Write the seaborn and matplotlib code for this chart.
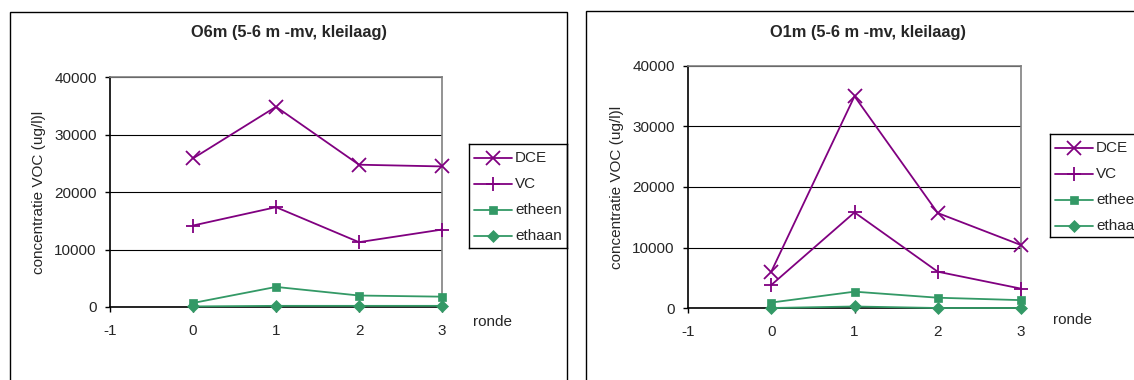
import matplotlib
matplotlib.use("Agg")
import matplotlib.pyplot as plt
from matplotlib.patches import Rectangle
import pandas as pd
import seaborn as sns

sns.set_theme(style="white")
plt.rcParams["font.family"] = ["Liberation Sans", "DejaVu Sans"]

ronde = [0, 1, 2, 3]
series_names = ["DCE", "VC", "etheen", "ethaan"]

# O6m (5-6 m -mv, kleilaag)
o6m_dce = [25900, 34900, 24800, 24500]
o6m_vc = [14200, 17400, 11300, 13500]
o6m_etheen = [700, 3500, 2000, 1800]
o6m_ethaan = [100, 200, 200, 200]

# O1m (5-6 m -mv, kleilaag)
o1m_dce = [6000, 35000, 15700, 10400]
o1m_vc = [3800, 15800, 6000, 3200]
o1m_etheen = [900, 2700, 1700, 1300]
o1m_ethaan = [0, 250, 0, 0]

titles = ["O6m (5-6 m -mv, kleilaag)", "O1m (5-6 m -mv, kleilaag)"]
y_ticks = [0, 10000, 20000, 30000, 40000]
x_ticks = [-1, 0, 1, 2, 3]

purple = "#800080"
green = "#339966"
palette = {"DCE": purple, "VC": purple, "etheen": green, "ethaan": green}
markers = {"DCE": "x", "VC": "+", "etheen": "s", "ethaan": "D"}
FS = 11


def long_frame(dce, vc, etheen, ethaan):
    rows = []
    for name, vals in zip(series_names, [dce, vc, etheen, ethaan]):
        for r, v in zip(ronde, vals):
            rows.append({"ronde": r, "stof": name, "conc": v})
    return pd.DataFrame(rows)


def marker_kw(name):
    m = markers[name]
    c = palette[name]
    if m in ("x", "+"):
        return dict(marker=m, markersize=10, markeredgewidth=1.3,
                    markeredgecolor=c)
    return dict(marker=m, markersize=6 if m == "D" else 5.2,
                markeredgecolor=c, markerfacecolor=c, markeredgewidth=0.5)


W, H = 1134, 380
fig = plt.figure(figsize=(W / 100, H / 100), dpi=100)

panels = [
    dict(df=long_frame(o6m_dce, o6m_vc, o6m_etheen, o6m_ethaan),
         frame=(10, 12, 567, 400), ax=(110, 77.5, 442, 307),
         title_xy=(289, 33), legend=(469, 144, 567, 248), ronde_xy=(492, 322)),
    dict(df=long_frame(o1m_dce, o1m_vc, o1m_etheen, o1m_ethaan),
         frame=(586, 11, 1150, 400), ax=(688, 66, 1021, 308),
         title_xy=(868, 32), legend=(1050, 134, 1150, 237), ronde_xy=(1073, 320)),
]


def fx(x):
    return x / W


def fy(y):
    return 1 - y / H


for i, p in enumerate(panels):
    x0, y0, x1, y1 = p["frame"]
    fig.patches.append(Rectangle((fx(x0), fy(y1)), fx(x1 - x0), (y1 - y0) / H,
                                 transform=fig.transFigure, fill=False,
                                 edgecolor="black", linewidth=1.0))
    fig.text(fx(p["title_xy"][0]), fy(p["title_xy"][1]), titles[i],
             ha="center", va="center", fontsize=11.8, fontweight="bold")

    a0, b0, a1, b1 = p["ax"]
    ax = fig.add_axes([fx(a0), fy(b1), fx(a1 - a0), (b1 - b0) / H])
    df = p["df"]
    for name in series_names:
        sub = df[df["stof"] == name]
        sns.lineplot(data=sub, x="ronde", y="conc", color=palette[name],
                     linewidth=1.3, ax=ax, legend=False, clip_on=False,
                     zorder=3, **marker_kw(name))

    ax.set_xlim(-1, 3)
    ax.set_ylim(0, 40000)
    ax.set_xticks(x_ticks)
    ax.set_yticks(y_ticks)
    ax.set_xticklabels([str(t) for t in x_ticks], fontsize=FS)
    ax.set_yticklabels([str(t) for t in y_ticks], fontsize=FS)
    ax.tick_params(axis="both", direction="out", length=3.6, width=1,
                   color="black", pad=6, bottom=True, left=True)
    ax.tick_params(axis="x", pad=8.5)
    ax.set_xlabel("")
    ax.set_ylabel("concentratie VOC (ug/l)l", fontsize=FS, labelpad=6)
    ax.yaxis.grid(True, color="black", linewidth=0.8)
    ax.xaxis.grid(False)
    ax.set_axisbelow(True)
    for side in ("left", "bottom"):
        ax.spines[side].set_color("black")
        ax.spines[side].set_linewidth(1.2)
    for side in ("top", "right"):
        ax.spines[side].set_color("#808080")
        ax.spines[side].set_linewidth(1.2)
    ax.set_facecolor("white")

    fig.text(fx(p["ronde_xy"][0]), fy(p["ronde_xy"][1]), "ronde",
             ha="center", va="center", fontsize=FS)

    # legend box drawn in figure space
    l0, m0, l1, m1 = p["legend"]
    lax = fig.add_axes([fx(l0), fy(m1), fx(l1 - l0), (m1 - m0) / H])
    lax.set_xlim(0, l1 - l0)
    lax.set_ylim(m1 - m0, 0)
    lax.set_xticks([])
    lax.set_yticks([])
    for s in lax.spines.values():
        s.set_color("black")
        s.set_linewidth(1.0)
    for k, name in enumerate(series_names):
        yy = 13.5 + 26.2 * k
        lax.plot([5, 43], [yy, yy], color=palette[name], linewidth=1.3)
        lax.plot([24], [yy], color=palette[name], **marker_kw(name))
        lax.text(46, yy, name, va="center", ha="left", fontsize=FS,
                 clip_on=True)

fig.savefig("out.png", dpi=100, facecolor="white")
